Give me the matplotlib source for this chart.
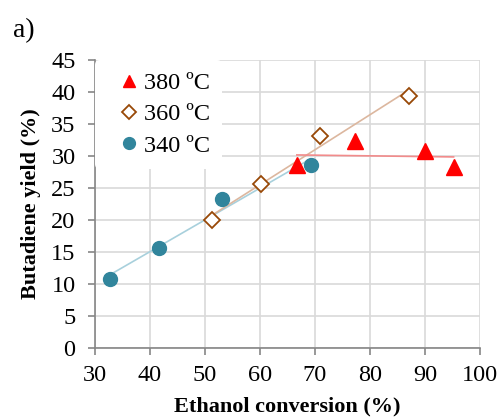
import numpy as np
import matplotlib
matplotlib.use("Agg")
import matplotlib.pyplot as plt

plt.rcParams['font.family'] = ['Liberation Serif', 'DejaVu Serif']

# ethanol conversion (%) and butadiene yield (%) per temperature
conv_380 = [66.7, 77.3, 90.0, 95.2]
yield_380 = [28.6, 32.3, 30.8, 28.3]
conv_360 = [51.3, 60.2, 70.9, 87.1]
yield_360 = [20.0, 25.6, 33.2, 39.4]
conv_340 = [32.8, 41.6, 53.0, 69.2]
yield_340 = [10.8, 15.7, 23.3, 28.6]

labels = ["380 ºC", "360 ºC", "340 ºC"]

fig = plt.figure(figsize=(5.0, 4.17), dpi=100)
ax = fig.add_axes([0.19, 0.1655, 0.77, 0.6905])

def trend(ax, x, y, color):
    # least-squares linear trendline over the data range
    k, b = np.polyfit(x, y, 1)
    xs = np.array([min(x), max(x)])
    ax.plot(xs, k * xs + b, color=color, lw=1.2, zorder=2)

trend(ax, conv_340, yield_340, '#a8d0dc')
trend(ax, conv_360, yield_360, '#dcb79f')
trend(ax, conv_380, yield_380, '#f28b8b')

ax.plot(conv_380, yield_380, ls='none', marker='^', ms=11, color='#ff0000',
        mec='#ff0000', label=labels[0], zorder=4)
ax.plot(conv_360, yield_360, ls='none', marker='D', ms=8, mfc='white',
        mec='#984807', mew=1.3, label=labels[1], zorder=4)
ax.plot(conv_340, yield_340, ls='none', marker='o', ms=10, color='#31859c',
        label=labels[2], zorder=4)

ax.set_xlim(30, 100)
ax.set_ylim(0, 45)
ax.set_xticks(range(30, 101, 10))
ax.set_yticks(range(0, 46, 5))
ax.grid(True, color='#d9d9d9', lw=1.2, zorder=0)
ax.set_axisbelow(True)
for s in ['top', 'right']:
    ax.spines[s].set_visible(False)
for s in ['left', 'bottom']:
    ax.spines[s].set_color('#868686')
    ax.spines[s].set_linewidth(1.2)
ax.tick_params(direction='out', length=5, width=1.2, color='#868686',
               labelsize=17.5)
ax.tick_params(axis='y', pad=9)
ax.tick_params(axis='x', pad=7.5)

ax.set_xlabel("Ethanol conversion (%)", fontsize=16, fontweight='bold', labelpad=7)
ax.set_ylabel("Butadiene yield (%)", fontsize=16, fontweight='bold', labelpad=7)

leg = ax.legend(loc='upper left', fontsize=17.5, frameon=True, framealpha=1,
                edgecolor='white', handletextpad=-0.3, handlelength=1.8,
                borderaxespad=0, borderpad=0.5, labelspacing=0.38,
                markerscale=0.85)
leg.get_frame().set_linewidth(0)

fig.text(0.025, 0.91, "a)", fontsize=20, va='baseline')

fig.savefig("out.png", dpi=100)
